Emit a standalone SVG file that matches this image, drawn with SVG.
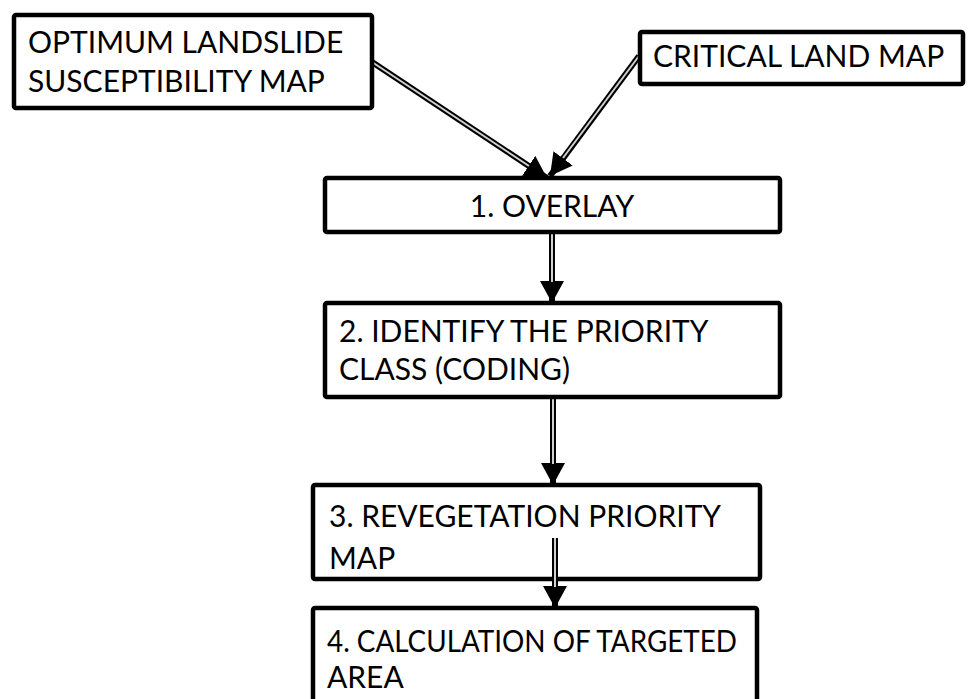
<svg xmlns="http://www.w3.org/2000/svg" width="969" height="699" viewBox="0 0 969 699">
<style>
.box{fill:#fff;stroke:#000;stroke-width:4.5;stroke-linejoin:round}
.t{font-family:Lato,"Open Sans","Liberation Sans",sans-serif;font-size:30px;fill:#000}
.outer{stroke:#000;stroke-width:6;fill:none}
.inner{stroke:#d0d0d0;stroke-width:2;fill:none}
</style>
<defs>
<marker id="ah" markerUnits="userSpaceOnUse" markerWidth="24" markerHeight="24" refX="22" refY="12" orient="auto" viewBox="0 0 24 24">
<path d="M0,0 L22,12 L0,24 z" fill="#000"/>
</marker>
</defs>
<rect width="969" height="699" fill="#fff"/>
<g id="connectors">
<path class="outer" d="M372,62 L547,178" marker-end="url(#ah)"/>
<path class="inner" d="M372,62 L529,166"/>
<path class="outer" d="M639,56 L550,176" marker-end="url(#ah)"/>
<path class="inner" d="M639,56 L563,158"/>
<path class="outer" d="M552,232 L552,303" marker-end="url(#ah)"/>
<path class="inner" d="M552,232 L552,282"/>
<path class="outer" d="M553,397 L553,485" marker-end="url(#ah)"/>
<path class="inner" d="M553,397 L553,464"/>
</g>
<g id="n1"><rect class="box" x="14" y="15" width="358" height="93" rx="2"/>
<text class="t" x="28" y="53">OPTIMUM LANDSLIDE</text><text class="t" x="28" y="92">SUSCEPTIBILITY MAP</text></g>
<g id="n2"><rect class="box" x="640" y="32" width="323" height="52" rx="2"/>
<text class="t" x="653" y="67">CRITICAL LAND MAP</text></g>
<g id="n3"><rect class="box" x="325" y="178" width="455" height="54" rx="2"/>
<text class="t" x="552" y="217" text-anchor="middle">1. OVERLAY</text></g>
<g id="n4"><rect class="box" x="325" y="303" width="455" height="94" rx="2"/>
<text class="t" x="339" y="342">2. IDENTIFY THE PRIORITY</text><text class="t" x="339" y="380">CLASS (CODING)</text></g>
<g id="n5"><rect class="box" x="313" y="485" width="447" height="94" rx="2"/>
<text class="t" x="329" y="527">3. REVEGETATION PRIORITY</text><text class="t" x="329" y="569">MAP</text></g>
<g id="n6"><rect class="box" x="313" y="608" width="444" height="110" rx="2"/>
<text class="t" x="327" y="652" textLength="410" lengthAdjust="spacingAndGlyphs">4. CALCULATION OF TARGETED</text><text class="t" x="327" y="688">AREA</text></g>
<g id="connectors2">
<path class="outer" d="M555,538 L555,608" marker-end="url(#ah)"/>
<path class="inner" d="M555,538 L555,587"/>
</g>
</svg>
